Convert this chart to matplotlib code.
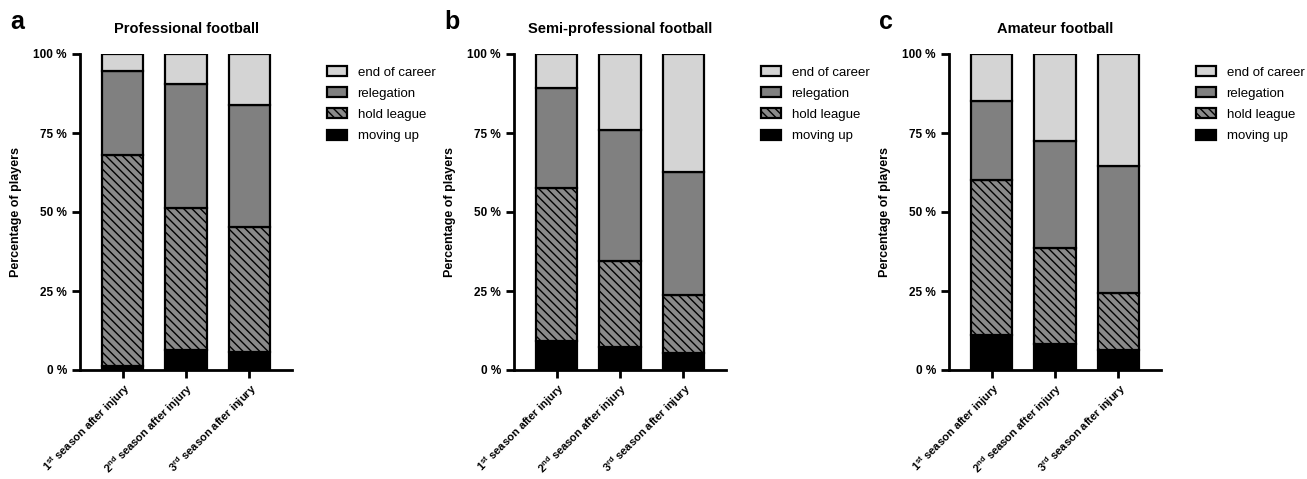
import matplotlib
matplotlib.use("Agg")
import matplotlib.pyplot as plt
import numpy as np

plt.rcParams['font.family'] = ['Liberation Sans', 'DejaVu Sans']
plt.rcParams['mathtext.fontset'] = 'custom'
plt.rcParams['mathtext.bf'] = 'Liberation Sans:bold'
plt.rcParams['mathtext.rm'] = 'Liberation Sans:bold'
plt.rcParams['mathtext.default'] = 'bf'
plt.rcParams['hatch.linewidth'] = 1.0

seasons = ['1$^{st}$ season after injury',
           '2$^{nd}$ season after injury',
           '3$^{rd}$ season after injury']
panel_letters = ['a', 'b', 'c']
titles = ['Professional football', 'Semi-professional football', 'Amateur football']
categories = ['moving up', 'hold league', 'relegation', 'end of career']

# percentages per panel, order: moving up, hold league, relegation, end of career
moving_up = [[1.3, 6.3, 5.6], [9.3, 7.3, 5.3], [11.1, 8.1, 6.4]]
hold_league = [[66.6, 44.9, 39.8], [48.4, 27.2, 18.4], [48.9, 30.4, 18.1]]
relegation = [[26.7, 39.2, 38.4], [31.5, 41.6, 39.1], [25.2, 33.9, 40.1]]
end_of_career = [[5.4, 9.6, 16.2], [10.8, 23.9, 37.2], [14.8, 27.6, 35.4]]

colors = ['black', '#8a8a8a', '#808080', '#d4d4d4']
hatches = [None, '\\\\\\\\', None, None]

fig = plt.figure(figsize=(13.07, 4.79), dpi=100)
lefts = [80, 514, 949]
W, H = 1307, 479

for i in range(3):
    ax = fig.add_axes([lefts[i] / W, (H - 370) / H, 212 / W, 316 / H])
    x = np.arange(3)
    series = [moving_up[i], hold_league[i], relegation[i], end_of_career[i]]
    bottom = np.zeros(3)
    handles = []
    for vals, c, h, lab in zip(series, colors, hatches, categories):
        b = ax.bar(x, vals, width=0.65, bottom=bottom, color=c, edgecolor='black',
                   linewidth=1.6, hatch=h, label=lab)
        bottom = bottom + np.array(vals)
        handles.append(b)
    ax.set_xlim(-0.68, 2.68)
    ax.set_ylim(0, 100)
    ax.set_yticks([0, 25, 50, 75, 100])
    ax.set_yticklabels(['0 %', '25 %', '50 %', '75 %', '100 %'], fontweight='bold', fontsize=8.5)
    ax.set_xticks(x)
    ax.set_xticklabels(seasons, rotation=45, ha='right', rotation_mode='anchor',
                       fontweight='bold', fontsize=8)
    ax.tick_params(axis='x', pad=2)
    ax.set_ylabel('Percentage of players', fontweight='bold', fontsize=9, labelpad=8)
    ax.set_title(titles[i], fontweight='bold', fontsize=10.5, pad=15)
    for s in ['top', 'right']:
        ax.spines[s].set_visible(False)
    for s in ['left', 'bottom']:
        ax.spines[s].set_linewidth(2)
    ax.tick_params(width=2, length=6)
    ax.text(-0.33, 1.10, panel_letters[i], transform=ax.transAxes,
            fontsize=18, fontweight='bold', va='center')
    leg = ax.legend(handles[::-1], categories[::-1], loc='upper left',
                    bbox_to_anchor=(1.11, 1.0), frameon=False, fontsize=9.5,
                    handlelength=1.5, handleheight=0.8, labelspacing=0.65)

fig.savefig('out.png', dpi=100)
